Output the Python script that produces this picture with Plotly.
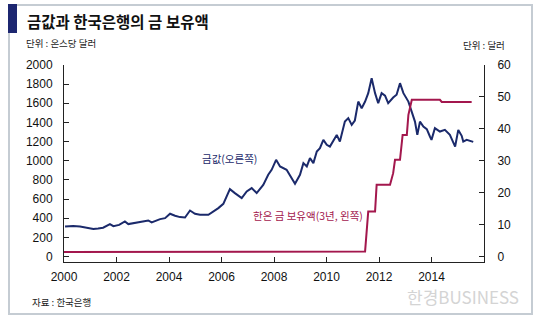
import plotly.graph_objects as go

# ---- data ----
gold_years = [2000.04, 2000.35, 2000.61, 2000.85, 2001.12, 2001.30, 2001.49, 2001.75, 2001.88,
              2002.10, 2002.32, 2002.45, 2002.70, 2002.90, 2003.05, 2003.21, 2003.34, 2003.66,
              2003.85, 2004.04, 2004.23, 2004.42, 2004.61, 2004.80, 2004.99, 2005.18, 2005.50,
              2005.69, 2005.88, 2006.07, 2006.32, 2006.51, 2006.77, 2006.96, 2007.15, 2007.34,
              2007.59, 2007.78, 2007.91, 2008.08, 2008.23, 2008.48, 2008.67, 2008.80, 2008.99,
              2009.12, 2009.25, 2009.37, 2009.50, 2009.63, 2009.75, 2009.88, 2010.01, 2010.13,
              2010.39, 2010.51, 2010.70, 2010.83, 2010.96, 2011.08, 2011.21, 2011.34, 2011.47,
              2011.59, 2011.72, 2011.85, 2011.97, 2012.10, 2012.23, 2012.35, 2012.54, 2012.67,
              2012.80, 2012.93, 2013.12, 2013.25, 2013.37, 2013.46, 2013.56, 2013.69, 2013.82,
              2013.94, 2014.00, 2014.13, 2014.32, 2014.51, 2014.70, 2014.90, 2015.02, 2015.15,
              2015.21, 2015.34, 2015.47, 2015.59]
gold_price = [313, 318, 313, 300, 286, 292, 300, 338, 316,
              330, 365, 338, 350, 365, 370, 376, 355, 390,
              400, 446, 425, 411, 407, 480, 446, 435, 435,
              470, 505, 550, 703, 662, 610, 679, 714, 662,
              748, 853, 905, 1009, 940, 905, 818, 759, 853,
              975, 940, 1027, 975, 1096, 1131, 1218, 1166, 1148,
              1270, 1200, 1409, 1445, 1375, 1420, 1618, 1549, 1618,
              1706, 1862, 1706, 1601, 1706, 1680, 1601, 1660, 1690,
              1810, 1706, 1618, 1497, 1409, 1270, 1409, 1357, 1330,
              1253, 1218, 1340, 1305, 1322, 1270, 1148, 1322, 1260,
              1200, 1218, 1205, 1197]

bok_years = [2000.0, 2003.0, 2006.0, 2011.47, 2011.59, 2011.85, 2011.91, 2012.42, 2012.54,
             2012.61, 2012.80, 2012.90, 2013.06, 2013.12, 2013.25, 2014.32, 2014.39, 2015.53]
bok_value = [1.4, 1.45, 1.5, 1.57, 14.1, 14.1, 22.5, 22.5, 26.1,
             30.3, 30.3, 38.1, 38.1, 44.4, 49.1, 49.1, 48.4, 48.4]

x_ticks = [2000, 2002, 2004, 2006, 2008, 2010, 2012, 2014, 2016]
x_labels = ["2000", "2002", "2004", "2006", "2008", "2010", "2012", "2014", ""]
left_ticks = list(range(0, 2001, 200))
right_ticks = list(range(0, 61, 10))

title_text = "금값과 한국은행의 금 보유액"
left_unit = "단위 : 온스당 달러"
right_unit = "단위 : 달러"
source_text = "자료 : 한국은행"
gold_label = "금값(오른쪽)"
bok_label = "한은 금 보유액(3년, 왼쪽)"
brand_text = "한경BUSINESS"

# ---- layout geometry ----
W, H = 540, 323
L, R, T, B = 64, 56, 65, 61
PW, PH = W - L - R, H - T - B


def px(x):
    return (x - L) / PW


def py(y):
    return (H - B - y) / PH


NAVY = "#1b2a6b"
MAG = "#a3174d"
KR = "Noto Sans CJK KR"
NUM = "Liberation Sans Narrow, Liberation Sans, Arial"

fig = go.Figure()
fig.add_trace(go.Scatter(x=gold_years, y=gold_price, mode="lines",
                         line=dict(color=NAVY, width=2), yaxis="y", showlegend=False,
                         hoverinfo="skip"))
fig.add_trace(go.Scatter(x=bok_years, y=bok_value, mode="lines",
                         line=dict(color=MAG, width=2), yaxis="y2", showlegend=False,
                         hoverinfo="skip"))

axis_common = dict(showgrid=False, zeroline=False, showline=True, linecolor="#222",
                   linewidth=1, ticks="inside", ticklen=5, tickcolor="#222",
                   tickfont=dict(family=NUM, size=12, color="#111"))

fig.update_layout(
    width=W, height=H,
    margin=dict(l=L, r=R, t=T, b=B, autoexpand=False),
    paper_bgcolor="white", plot_bgcolor="white",
    xaxis=dict(range=[2000, 2016], tickmode="array", tickvals=x_ticks, ticktext=x_labels,
               ticklabelstandoff=4, **axis_common),
    yaxis=dict(range=[-58, 2000], tickmode="array", tickvals=left_ticks,
               ticklabelstandoff=8, **axis_common),
    yaxis2=dict(range=[-58 * 0.03, 60], tickmode="array", tickvals=right_ticks,
                overlaying="y", side="right", ticklabelstandoff=10, **axis_common),
    shapes=[
        dict(type="rect", xref="paper", yref="paper", x0=px(9), x1=px(532), y0=py(314), y1=py(5),
             line=dict(color="#c5ccd3", width=2), fillcolor="rgba(0,0,0,0)", layer="below"),
        dict(type="rect", xref="paper", yref="paper", x0=px(8), x1=px(17), y0=py(33), y1=py(4),
             line=dict(width=0), fillcolor="#1c2670"),
    ],
    annotations=[
        dict(text=f"<b>{title_text}</b>", xref="paper", yref="paper", x=px(25), y=py(21),
             xanchor="left", yanchor="middle", showarrow=False,
             font=dict(family=KR, size=15.5, color="#111")),
        dict(text=left_unit, xref="paper", yref="paper", x=px(24), y=py(43),
             xanchor="left", yanchor="middle", showarrow=False,
             font=dict(family=KR, size=9.5, color="#222")),
        dict(text=right_unit, xref="paper", yref="paper", x=px(507), y=py(45),
             xanchor="right", yanchor="middle", showarrow=False,
             font=dict(family=KR, size=9.5, color="#222")),
        dict(text=source_text, xref="paper", yref="paper", x=px(30), y=py(302),
             xanchor="left", yanchor="middle", showarrow=False,
             font=dict(family=KR, size=9.5, color="#222")),
        dict(text=brand_text, xref="paper", yref="paper", x=px(521), y=py(296),
             xanchor="right", yanchor="middle", showarrow=False,
             font=dict(family=KR, size=17, color="#d4d4d4")),
        dict(text=gold_label, xref="x", yref="y", x=2006.29, y=1020,
             xanchor="center", yanchor="middle", showarrow=False,
             font=dict(family=KR, size=10.5, color=NAVY)),
        dict(text=bok_label, xref="x", yref="y", x=2009.30, y=425,
             xanchor="center", yanchor="middle", showarrow=False,
             font=dict(family=KR, size=10.5, color=MAG)),
    ],
)

fig.write_html("out.html")
